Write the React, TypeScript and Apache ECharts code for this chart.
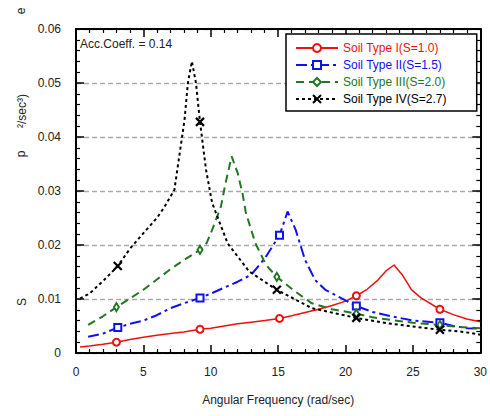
import React, { useEffect, useRef } from "react";
import * as echarts from "echarts";

const FONT = "'Liberation Sans', Arial, sans-serif";

const seriesNames = [
  "Soil Type I(S=1.0)",
  "Soil Type II(S=1.5)",
  "Soil Type III(S=2.0)",
  "Soil Type IV(S=2.7)",
];

const freqI = [0.3, 1, 2, 3, 4, 5, 6, 7, 8, 9.2, 10, 11, 12, 13, 14, 15.1, 16, 17, 18, 19, 20, 20.8, 21.6, 22.4, 23, 23.6, 24.2, 24.9, 25.6, 27, 28, 29, 30];
const valI = [0.0011, 0.0013, 0.0016, 0.002, 0.0025, 0.0029, 0.0033, 0.0036, 0.0039, 0.0044, 0.0046, 0.005, 0.0054, 0.0057, 0.006, 0.0064, 0.0069, 0.0075, 0.0081, 0.0088, 0.0096, 0.0106, 0.0118, 0.0135, 0.0152, 0.0163, 0.0145, 0.0117, 0.0102, 0.0081, 0.0071, 0.0063, 0.0058];
const markI = [3, 9.2, 15.1, 20.8, 27];

const freqII = [0.9, 2, 3.1, 4, 5, 6, 7, 8, 9.2, 10, 11, 12, 13, 14, 15.1, 15.7, 16.3, 17, 17.75, 18.5, 19.5, 20.8, 22, 23.4, 25, 27, 28, 29, 30];
const valII = [0.003, 0.0036, 0.0047, 0.0054, 0.006, 0.007, 0.0083, 0.0092, 0.0102, 0.011, 0.0121, 0.0132, 0.0145, 0.0175, 0.0218, 0.0262, 0.0228, 0.0172, 0.0135, 0.0117, 0.0104, 0.0087, 0.0076, 0.0068, 0.006, 0.0056, 0.005, 0.0046, 0.0045];
const markII = [3.1, 9.2, 15.1, 20.8, 27];

const freqIII = [0.9, 2, 3, 4, 5, 6, 7, 8, 9.2, 9.7, 10.1, 10.75, 11.1, 11.55, 12, 12.35, 12.6, 13.3, 14.1, 14.9, 16.1, 17.5, 19, 20.8, 22, 23.4, 25, 27, 28.5, 30];
const valIII = [0.0052, 0.0068, 0.0085, 0.0101, 0.0117, 0.0136, 0.0155, 0.0172, 0.0191, 0.0204, 0.0228, 0.0271, 0.0315, 0.0364, 0.0333, 0.0296, 0.026, 0.0204, 0.0163, 0.0141, 0.0117, 0.0092, 0.0081, 0.0073, 0.0066, 0.0061, 0.0056, 0.0052, 0.0048, 0.0046];
const markIII = [3, 9.2, 14.9, 20.8, 27];

const freqIV = [0.3, 1, 2, 3.1, 4, 5, 6, 6.5, 7.3, 8.05, 8.3, 8.6, 8.9, 9.2, 9.65, 10.1, 11.25, 12.85, 14.9, 17.5, 20.8, 23.4, 27, 28.5, 30];
const valIV = [0.0101, 0.011, 0.0133, 0.0161, 0.0193, 0.0222, 0.025, 0.0268, 0.0302, 0.0431, 0.05, 0.054, 0.05, 0.0428, 0.0339, 0.0278, 0.0203, 0.0151, 0.0117, 0.0083, 0.0065, 0.0054, 0.0043, 0.004, 0.0034];
const markIV = [3.1, 9.2, 14.9, 20.8, 27];

const xTicks = { min: 0, max: 30, interval: 5 };
const yTicks = { min: 0, max: 0.06, interval: 0.01 };

const build = (f: number[], v: number[], marks: number[]) =>
  f.map((x, i) =>
    marks.includes(x) ? { value: [x, v[i]] } : { value: [x, v[i]], symbol: "none" }
  );

export default function App() {
  const ref = useRef<HTMLDivElement>(null);
  useEffect(() => {
    if (!ref.current) return;
    const chart = echarts.init(ref.current, undefined, { renderer: "svg" });
    const axisCommon = {
      axisLine: { show: true, onZero: false, lineStyle: { color: "#000", width: 2 } },
      axisTick: { show: true, inside: true, length: 8, lineStyle: { color: "#000", width: 1.5 } },
      minorTick: { show: true, splitNumber: 5, length: 4, lineStyle: { color: "#000", width: 1.2 } },
    };
    const colors = ["#ee1111", "#1111ee", "#227722", "#000000"];
    const symbols = [
      "emptyCircle",
      "emptyRect",
      "emptyDiamond",
      "path://M0,0L10,10M10,0L0,10",
    ];
    const sizes: any[] = [7, 7, [5, 8], 8];
    const dashes: any[] = [null, [11, 4, 3, 4], [8, 5], [3, 3]];
    const datas = [
      build(freqI, valI, markI),
      build(freqII, valII, markII),
      build(freqIII, valIII, markIII),
      build(freqIV, valIV, markIV),
    ];
    chart.setOption({
      animation: false,
      backgroundColor: "#fff",
      grid: { left: 76, right: 7, top: 29, bottom: 63 },
      xAxis: [
        {
          type: "value",
          ...xTicks,
          position: "bottom",
          ...axisCommon,
          axisLabel: { color: "#222", fontSize: 12, margin: 13, fontFamily: FONT },
          splitLine: { show: false },
          name: "Angular Frequency (rad/sec)",
          nameLocation: "middle",
          nameGap: 41,
          nameTextStyle: { color: "#222", fontSize: 12, fontFamily: FONT },
        },
        {
          type: "value",
          ...xTicks,
          position: "top",
          ...axisCommon,
          axisLabel: { show: false },
          splitLine: { show: false },
        },
      ],
      yAxis: [
        {
          type: "value",
          ...yTicks,
          position: "left",
          ...axisCommon,
          axisLabel: { color: "#222", fontSize: 12, margin: 15, fontFamily: FONT },
          splitLine: { show: true, lineStyle: { color: "#aaaaaa", type: [5, 3], width: 1.3 } },
        },
        {
          type: "value",
          ...yTicks,
          position: "right",
          ...axisCommon,
          axisLabel: { show: false },
          splitLine: { show: false },
        },
      ],
      legend: {
        orient: "vertical",
        left: 286,
        top: 34,
        padding: [8, 30, 6, 9],
        itemWidth: 42,
        itemHeight: 10,
        itemGap: 5,
        borderColor: "#000",
        borderWidth: 1.5,
        backgroundColor: "#fff",
        data: seriesNames.map((n, i) => ({
          name: n,
          textStyle: { color: colors[i], fontSize: 12, fontFamily: FONT },
        })),
      },
      series: seriesNames.map((n, i) => ({
        name: n,
        type: "line",
        data: datas[i],
        symbol: symbols[i],
        symbolSize: sizes[i],
        symbolKeepAspect: true,
        color: colors[i],
        lineStyle: dashes[i]
          ? { color: colors[i], width: 2, type: dashes[i] }
          : { color: colors[i], width: 1.5, type: "solid" },
        itemStyle: {
          color: colors[i],
          borderColor: colors[i],
          borderWidth: i === 3 ? 2.2 : 1.6,
        },
      })),
      graphic: [
        {
          type: "text",
          left: 80,
          top: 38,
          style: { text: "Acc.Coeff. = 0.14", fill: "#222", fontSize: 12, fontFamily: FONT },
        },
        {
          type: "text",
          x: 22,
          y: 302,
          rotation: Math.PI / 2,
          style: { text: "S", fill: "#222", fontSize: 12, fontFamily: FONT, align: "center", verticalAlign: "middle" },
        },
        {
          type: "text",
          x: 21,
          y: 154,
          rotation: Math.PI / 2,
          style: { text: "p", fill: "#222", fontSize: 12, fontFamily: FONT, align: "center", verticalAlign: "middle" },
        },
        {
          type: "text",
          x: 22,
          y: 111,
          rotation: Math.PI / 2,
          style: { text: "²/sec³)", fill: "#222", fontSize: 12, fontFamily: FONT, align: "center", verticalAlign: "middle" },
        },
        {
          type: "text",
          x: 21,
          y: 11,
          rotation: Math.PI / 2,
          style: { text: "e", fill: "#222", fontSize: 12, fontFamily: FONT, align: "center", verticalAlign: "middle" },
        },
      ],
    });
    return () => chart.dispose();
  }, []);
  return (
    <div
      ref={ref}
      style={{ position: "absolute", left: 0, top: 0, width: 490, height: 416 }}
    />
  );
}
